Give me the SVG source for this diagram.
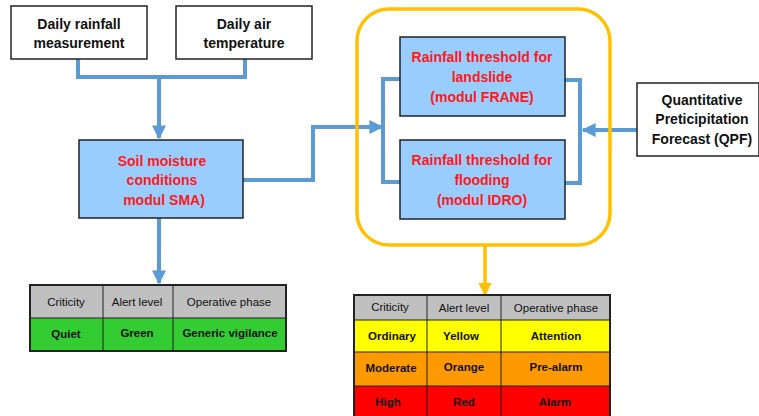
<svg xmlns="http://www.w3.org/2000/svg" width="759" height="416" viewBox="0 0 759 416">
<defs>
<style>
.box{fill:#fff;stroke:#222;stroke-width:1.5}
.mod{fill:#99ccff;stroke:#222;stroke-width:1.5}
.t{font-family:"Liberation Sans",Arial,sans-serif;font-weight:bold;font-size:14px;text-anchor:middle;fill:#111}
.r{font-family:"Liberation Sans",Arial,sans-serif;font-weight:bold;font-size:14px;text-anchor:middle;fill:#ff1a1a}
.th{font-family:"Liberation Sans",Arial,sans-serif;font-size:11.5px;text-anchor:middle;fill:#111}
.td{font-family:"Liberation Sans",Arial,sans-serif;font-weight:bold;font-size:11.5px;text-anchor:middle;fill:#111}
.c{fill:none;stroke:#5b9bd5;stroke-width:4}
.y{fill:none;stroke:#ffc000;stroke-width:3.5}
.grid{stroke:#222;stroke-width:1}
</style>
<marker id="ab" viewBox="0 0 10 10" refX="9" refY="5" markerWidth="3.5" markerHeight="3.5" orient="auto" markerUnits="strokeWidth"><path d="M0,0 L10,5 L0,10 z" fill="#5b9bd5"/></marker>
<marker id="ay" viewBox="0 0 10 10" refX="9" refY="5" markerWidth="3.8" markerHeight="3.8" orient="auto" markerUnits="strokeWidth"><path d="M0,0 L10,5 L0,10 z" fill="#ffc000"/></marker>
</defs>

<g id="connectors">
<path class="c" d="M78,59 V77 H245 V59"/>
<path class="c" d="M159,77 V138" marker-end="url(#ab)"/>
<path class="c" d="M243,180 H313 V127 H382" marker-end="url(#ab)"/>
<path class="c" d="M400,79 H383 V182 H400"/>
<path class="c" d="M565,80 H580 V183 H565"/>
<path class="c" d="M637,130 H583" marker-end="url(#ab)"/>
<path class="c" d="M159,218 V283" marker-end="url(#ab)"/>
<path class="y" d="M485,245 V295" marker-end="url(#ay)"/>
</g>

<g id="group-thresholds">
<rect class="y" x="357" y="9" width="253" height="236" rx="32"/>
</g>

<g id="rainfall">
<rect class="box" x="11" y="6" width="136" height="53"/>
<text class="t" x="79" y="29">Daily rainfall</text>
<text class="t" x="79" y="48">measurement</text>
</g>
<g id="airtemp">
<rect class="box" x="176" y="6" width="136" height="53"/>
<text class="t" x="244" y="29">Daily air</text>
<text class="t" x="244" y="48">temperature</text>
</g>
<g id="sma">
<rect class="mod" x="79" y="140" width="164" height="78"/>
<text class="r" x="162" y="166">Soil moisture</text>
<text class="r" x="162" y="185">conditions</text>
<text class="r" x="164" y="205">modul SMA)</text>
</g>
<g id="frane">
<rect class="mod" x="400" y="37" width="165" height="79"/>
<text class="r" x="482" y="62">Rainfall  threshold for</text>
<text class="r" x="482" y="82">landslide</text>
<text class="r" x="482" y="102">(modul FRANE)</text>
</g>
<g id="idro">
<rect class="mod" x="400" y="140" width="165" height="79"/>
<text class="r" x="482" y="165">Rainfall  threshold for</text>
<text class="r" x="482" y="185">flooding</text>
<text class="r" x="482" y="205">(modul IDRO)</text>
</g>
<g id="qpf">
<rect class="box" x="637" y="83" width="122" height="73"/>
<text class="t" x="702" y="105">Quantitative</text>
<text class="t" x="702" y="124">Preticipitation</text>
<text class="t" x="702" y="144">Forecast (QPF)</text>
</g>

<g id="table-green">
<rect x="30" y="285" width="256" height="33" fill="#c0c0c0"/>
<rect x="30" y="318" width="256" height="33" fill="#33cc33"/>
<line class="grid" x1="30" y1="318" x2="286" y2="318"/>
<line class="grid" x1="103" y1="285" x2="103" y2="351"/>
<line class="grid" x1="173" y1="285" x2="173" y2="351"/>
<rect x="30" y="285" width="256" height="66" fill="none" stroke="#222" stroke-width="2"/>
<text class="th" x="66" y="306">Criticity</text>
<text class="th" x="137" y="306">Alert level</text>
<text class="th" x="229" y="306">Operative phase</text>
<text class="td" x="66" y="338">Quiet</text>
<text class="td" x="137" y="337">Green</text>
<text class="td" x="230" y="337">Generic vigilance</text>
</g>

<g id="table-levels">
<rect x="354" y="295" width="256" height="25" fill="#c0c0c0"/>
<rect x="354" y="320" width="256" height="32" fill="#ffff00"/>
<rect x="354" y="352" width="256" height="34" fill="#ff9900"/>
<rect x="354" y="386" width="256" height="32" fill="#ff0000"/>
<line class="grid" x1="354" y1="320" x2="610" y2="320"/>
<line class="grid" x1="354" y1="352" x2="610" y2="352"/>
<line class="grid" x1="354" y1="386" x2="610" y2="386"/>
<line class="grid" x1="427" y1="295" x2="427" y2="418"/>
<line class="grid" x1="501" y1="295" x2="501" y2="418"/>
<rect x="354" y="295" width="256" height="123" fill="none" stroke="#222" stroke-width="2"/>
<text class="th" x="390" y="311">Criticity</text>
<text class="th" x="464" y="312">Alert level</text>
<text class="th" x="556" y="312">Operative phase</text>
<text class="td" x="392" y="340">Ordinary</text>
<text class="td" x="461" y="340">Yellow</text>
<text class="td" x="556" y="340">Attention</text>
<text class="td" x="391" y="372">Moderate</text>
<text class="td" x="464" y="371">Orange</text>
<text class="td" x="556" y="371">Pre-alarm</text>
<text class="td" x="388" y="406">High</text>
<text class="td" x="464" y="406">Red</text>
<text class="td" x="555" y="406">Alarm</text>
</g>
</svg>
